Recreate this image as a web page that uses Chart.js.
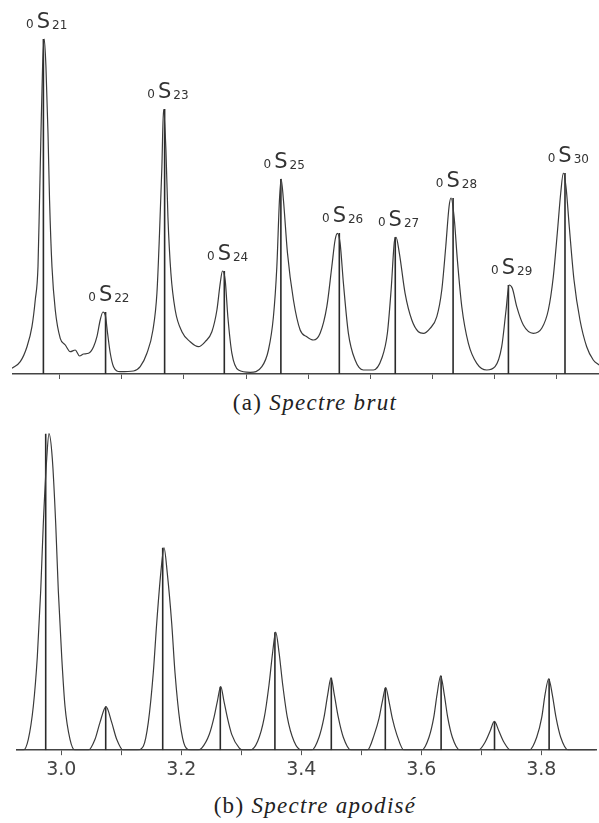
<!DOCTYPE html>
<html>
<head>
<meta charset="utf-8">
<script src="https://cdn.jsdelivr.net/npm/chart.js@4.4.1/dist/chart.umd.min.js"></script>
<style>
html, body { margin: 0; padding: 0; background: #fff; }
body { width: 599px; height: 823px; position: relative; overflow: hidden; }
.panel { position: absolute; }
.panel canvas { display: block; }
.caption {
    position: absolute; left: 0; width: 630px; text-align: center;
    font-family: "Liberation Serif", serif; font-size: 23px; letter-spacing: 1.3px;
    line-height: 26px; color: #222;
}
</style>
</head>
<body>
<div class="panel" style="left:12px;top:0;width:587px;height:379px"><canvas id="raw" width="587" height="379"></canvas></div>
<div class="caption" style="top:390px">(a) <i>Spectre brut</i></div>
<div class="panel" style="left:16px;top:395px;width:581px;height:389px"><canvas id="apod" width="581" height="389"></canvas></div>
<div class="caption" style="top:793px">(b) <i>Spectre apodisé</i></div>
<script>
// mode names and frequencies (mHz)
const modeLabels = ['21', '22', '23', '24', '25', '26', '27', '28', '29', '30'];
const peakFreq = [2.974, 3.074, 3.169, 3.265, 3.356, 3.450, 3.540, 3.633, 3.722, 3.813];
const rawPeak = [335, 62, 265, 103, 195, 141, 137, 176, 89, 201];
const apodPeak = [319, 44, 204, 64, 119, 73, 63, 75, 29, 72];
const tickValues = [3.0, 3.1, 3.2, 3.3, 3.4, 3.5, 3.6, 3.7, 3.8];

// raw spectrum
const rawFreq = [
    2.9235, 2.9368, 2.9476, 2.9556, 2.9609, 2.9653, 2.9678, 2.9701, 2.9727, 2.9754,
    2.9781, 2.9814, 2.9839, 2.9878, 2.9931, 3.0011, 3.0092, 3.0172, 3.0252, 3.0322,
    3.0386, 3.0466, 3.0547, 3.0601, 3.0654, 3.0698, 3.0735, 3.0772, 3.0815, 3.0868,
    3.0976, 3.1190, 3.1297, 3.1405, 3.1502, 3.1566, 3.1608, 3.1646, 3.1672, 3.1711,
    3.1743, 3.1791, 3.1860, 3.1968, 3.2101, 3.2235, 3.2342, 3.2450, 3.2531, 3.2584,
    3.2621, 3.2664, 3.2707, 3.2772, 3.2878, 3.3066, 3.3254, 3.3360, 3.3440, 3.3495,
    3.3537, 3.3564, 3.3601, 3.3666, 3.3762, 3.3870, 3.3977, 3.4084, 3.4191, 3.4299,
    3.4379, 3.4432, 3.4469, 3.4513, 3.4566, 3.4646, 3.4754, 3.4887, 3.5048, 3.5183,
    3.5273, 3.5333, 3.5386, 3.5413, 3.5466, 3.5558, 3.5666, 3.5772, 3.5852, 3.5960,
    3.6068, 3.6148, 3.6212, 3.6265, 3.6297, 3.6346, 3.6399, 3.6470, 3.6576, 3.6711,
    3.6871, 3.7005, 3.7112, 3.7182, 3.7230, 3.7283, 3.7354, 3.7460, 3.7621, 3.7756,
    3.7862, 3.7942, 3.8006, 3.8061, 3.8103, 3.8146, 3.8199, 3.8275, 3.8371, 3.8479,
    3.8585, 3.8677
];
const rawAmp = [
    5.7, 12.3, 27.3, 47.3, 74, 107.3, 174, 241, 307.3, 335,
    307.3, 241, 174, 107.3, 64, 35.7, 29, 22.3, 24, 18,
    20, 20.7, 27.3, 37.3, 54, 62, 59, 41, 21, 7.3,
    2.3, 3, 7.3, 20.7, 44, 80.7, 141, 207.3, 264.7, 224,
    157.3, 100.7, 64, 42.3, 32.3, 27.3, 32.3, 42.3, 64, 90.7,
    103, 94, 57.3, 20.7, 4, 1.7, 7.3, 24, 57.3, 107.3,
    174, 195, 174, 121, 74, 44, 37.3, 34, 40.7, 67.3,
    107.3, 134, 140.7, 130.7, 90.7, 40.7, 14, 4, 4, 15.7,
    40.7, 84, 132.3, 136.7, 120.7, 80.7, 54, 42.3, 40.7, 45.7,
    57.3, 84, 127.3, 167.3, 176, 157.3, 114, 67.3, 30.7, 10.7,
    4, 7.3, 27.3, 64, 89, 85.7, 67.3, 49, 40.7, 45.7,
    64, 97.3, 140.7, 180.7, 201, 187.3, 147.3, 94, 54, 27.3,
    14, 9
];

// apodized spectrum
const apodFreq = [
    2.9245,
    2.9367, 2.9450, 2.9533, 2.9600, 2.9657, 2.9700, 2.9757, 2.9795, 2.9850, 2.9907, 2.9950, 3.0007, 3.0062, 3.0145, 3.0228,
    3.0450, 3.0562, 3.0645, 3.0745, 3.0840, 3.0923, 3.1033,
    3.1262, 3.1367, 3.1450, 3.1533, 3.1590, 3.1657, 3.1712, 3.1767, 3.1840, 3.1895, 3.1978, 3.2062, 3.2162,
    3.2278, 3.2340, 3.2467, 3.2545, 3.2600, 3.2657, 3.2712, 3.2767, 3.2840, 3.2967, 3.3028,
    3.3145, 3.3273, 3.3383, 3.3462, 3.3523, 3.3573, 3.3628, 3.3690, 3.3767, 3.3878, 3.4007,
    3.4173, 3.4295, 3.4378, 3.4440, 3.4495, 3.4550, 3.4617, 3.4700, 3.4828,
    3.5100, 3.5217, 3.5295, 3.5350, 3.5407, 3.5462, 3.5517, 3.5590, 3.5712,
    3.6007, 3.6128, 3.6207, 3.6262, 3.6323, 3.6383, 3.6440, 3.6517, 3.6645,
    3.6950, 3.7062, 3.7145, 3.7217, 3.7295, 3.7378, 3.7490,
    3.7800, 3.7923, 3.8007, 3.8062, 3.8123, 3.8183, 3.8245, 3.8323, 3.8450,
    3.8900
];
const apodAmp = [
    0,
    0, 11, 44, 94, 161, 228, 294, 319, 294, 228, 161, 94, 44, 11, 0,
    0, 11, 28, 44, 28, 11, 0,
    0, 4, 28, 78, 128, 178, 204, 178, 128, 78, 28, 4, 0,
    0, 2, 16, 33, 49, 64, 49, 33, 16, 2, 0,
    0, 9, 33, 66, 99, 119, 99, 66, 33, 9, 0,
    0, 13, 33, 56, 73, 56, 33, 13, 0,
    0, 16, 32, 49, 63, 49, 32, 16, 0,
    0, 13, 33, 56, 75, 56, 33, 13, 0,
    0, 8, 19, 29, 19, 8, 0,
    0, 13, 33, 56, 72, 56, 33, 13, 0,
    0
];

Chart.defaults.font.family = "'DejaVu Sans', sans-serif";

function toPoints(xs, ys) {
    return xs.map((x, i) => ({ x: x, y: ys[i] }));
}

function stickPoints(freqs, heights) {
    const pts = [];
    freqs.forEach((f, i) => {
        pts.push({ x: f, y: 0 }, { x: f, y: heights[i] }, { x: f, y: null });
    });
    return pts;
}

// 0S21 style labels above each raw peak
const modeLabelPlugin = {
    id: 'modeLabels',
    afterDatasetsDraw(chart) {
        const ctx = chart.ctx;
        const xs = chart.scales.x, ys = chart.scales.y;
        ctx.save();
        ctx.fillStyle = '#333';
        ctx.textBaseline = 'alphabetic';
        peakFreq.forEach((f, i) => {
            const cx = xs.getPixelForValue(f);
            const base = ys.getPixelForValue(rawPeak[i]) - 11;
            ctx.font = "21px 'DejaVu Sans'";
            const sw = ctx.measureText('S').width;
            ctx.textAlign = 'center';
            ctx.fillText('S', cx, base);
            ctx.font = "12px 'DejaVu Sans'";
            ctx.textAlign = 'right';
            ctx.fillText('0', cx - sw / 2 - 3, base);
            ctx.textAlign = 'left';
            ctx.fillText(modeLabels[i], cx + sw / 2 + 2, base + 1);
        });
        ctx.restore();
    }
};

function makeChart(id, curve, sticks, xMin, xMax, yMax, showTickLabels, plugins) {
    const canvas = document.getElementById(id);
    return new Chart(canvas, {
        type: 'line',
        data: {
            datasets: [
                {
                    data: curve,
                    borderColor: '#3a3a3a',
                    borderWidth: 1.2,
                    pointRadius: 0,
                    cubicInterpolationMode: 'monotone',
                    fill: false
                },
                {
                    data: sticks,
                    borderColor: '#2a2a2a',
                    borderWidth: 1.6,
                    pointRadius: 0,
                    tension: 0,
                    spanGaps: false,
                    fill: false
                }
            ]
        },
        options: {
            responsive: false,
            animation: false,
            devicePixelRatio: 1,
            events: [],
            layout: { padding: 0 },
            plugins: {
                legend: { display: false },
                tooltip: { enabled: false }
            },
            scales: {
                x: {
                    type: 'linear',
                    min: xMin,
                    max: xMax,
                    offset: false,
                    afterBuildTicks: (s) => { s.ticks = tickValues.map(v => ({ value: v })); },
                    grid: {
                        drawOnChartArea: false,
                        drawTicks: true,
                        tickLength: 5,
                        color: '#555',
                        lineWidth: 1
                    },
                    border: { display: true, color: '#444', width: 1.5 },
                    ticks: {
                        display: showTickLabels,
                        autoSkip: false,
                        maxRotation: 0,
                        padding: 3,
                        color: '#444',
                        font: { size: 19 },
                        callback: (v) => (Math.round(v * 10) % 2 === 0 ? v.toFixed(1) : '')
                    }
                },
                y: {
                    display: false,
                    min: 0,
                    max: yMax
                }
            }
        },
        plugins: plugins
    });
}

makeChart('raw', toPoints(rawFreq, rawAmp), stickPoints(peakFreq, rawPeak),
    2.9235, 3.8677, 374, false, [modeLabelPlugin]);
makeChart('apod', toPoints(apodFreq, apodAmp), stickPoints(peakFreq, apodPeak),
    2.9245, 3.8928, 358, true, []);
</script>
</body>
</html>
